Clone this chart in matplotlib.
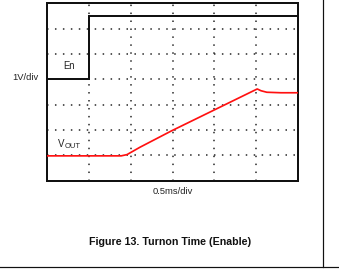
import matplotlib
matplotlib.use("Agg")
import matplotlib.pyplot as plt
from matplotlib.lines import Line2D

# Data in screen divisions (x: 0.5 ms/div, y: 1 V/div)
en_t = [0.0, 1.0, 1.0, 6.0]
en_v = [4.0, 4.0, 6.5, 6.5]
vout_t = [0.0, 1.77, 1.91, 2.22, 2.98, 5.03, 5.12, 5.26, 5.6, 6.0]
vout_v = [0.98, 0.98, 1.03, 1.32, 1.97, 3.62, 3.55, 3.49, 3.47, 3.47]

W, H = 339, 269
fig = plt.figure(figsize=(W / 72, H / 72), dpi=72)
plt.rcParams['font.family'] = ['Liberation Sans', 'DejaVu Sans']

def fx(px):
    return px / W

def fy(py):
    return 1 - py / H

ax = fig.add_axes([fx(47.3), fy(180.7), fx(297.7) - fx(47.3), fy(3.3) - fy(180.7)])
ax.set_xlim(0, 6)
ax.set_ylim(0, 7)
ax.set_xticks([])
ax.set_yticks([])
for s in ax.spines.values():
    s.set_linewidth(2.0)
    s.set_color('#111111')

for x in range(1, 6):
    ax.axvline(x, color='#222222', lw=1.5, ls=(0, (1, 4.3)), zorder=1)
for y in range(1, 7):
    ax.axhline(y, color='#222222', lw=1.5, ls=(0, (1, 4.3)), zorder=1)

ax.plot(en_t, en_v, color='#111111', lw=2.0, solid_joinstyle='miter', zorder=3)
ax.plot(vout_t, vout_v, color='#ff1010', lw=1.7, zorder=3)

tc = '#222222'
fig.text(fx(25), fy(78), '1V/div', fontsize=9.4, color=tc, ha='center', va='center')
fig.text(fx(69), fy(66), 'En', fontsize=9.5, color=tc, ha='center', va='center')
fig.text(fx(58.3), fy(146.8), 'V', fontsize=9.8, color=tc, ha='left', va='baseline')
fig.text(fx(64.6), fy(147.6), 'OUT', fontsize=7.5, color=tc, ha='left', va='baseline')
fig.text(fx(172.5), fy(191), '0.5ms/div', fontsize=9.4, color=tc, ha='center', va='center')
fig.text(fx(170), fy(242.3), 'Figure 13. Turnon Time (Enable)', fontsize=10.6,
         fontweight='bold', color='#111111', ha='center', va='center')

fig.add_artist(Line2D([fx(323.3), fx(323.3)], [fy(0), fy(267)], transform=fig.transFigure,
                      color='#111111', lw=1.2))
fig.add_artist(Line2D([fx(0), fx(339)], [fy(266.8), fy(266.8)], transform=fig.transFigure,
                      color='#111111', lw=1.2))

fig.savefig('out.png', dpi=72)
